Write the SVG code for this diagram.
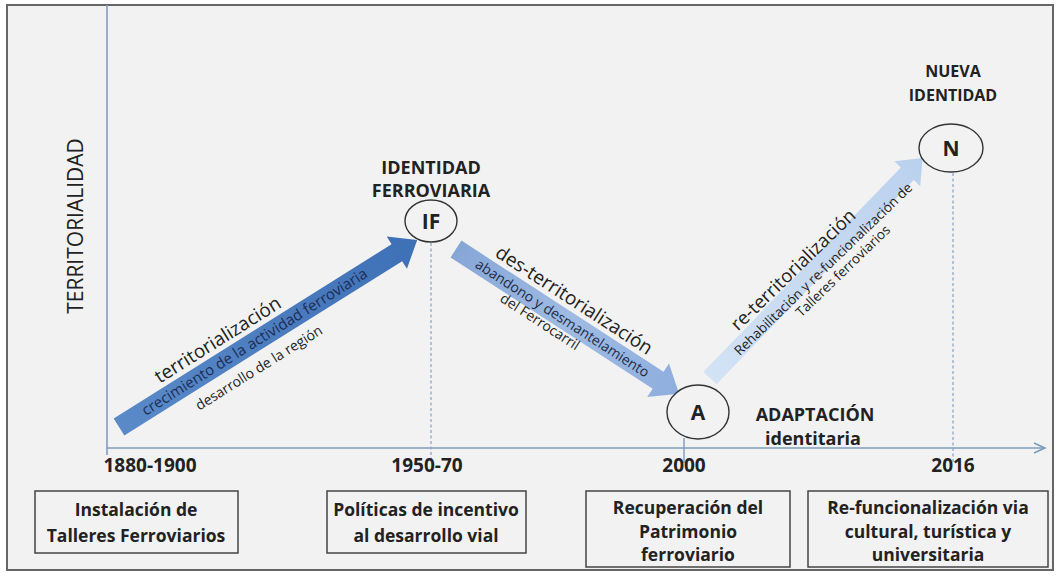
<svg xmlns="http://www.w3.org/2000/svg" width="1057" height="578" viewBox="0 0 1057 578">
<style>
text{font-family:"Open Sans","Liberation Sans",sans-serif;fill:#222}
.b{font-weight:bold}
.box{fill:#f2f2f2;stroke:#444;stroke-width:1.5}
.node{fill:#f2f2f2;stroke:#333;stroke-width:1.4}
.dot{stroke:#8ea8c8;stroke-width:1.3;stroke-dasharray:3 2.5;fill:none}
.axis{stroke:#7f9bbd;stroke-width:1.6;fill:none}
.lbl{font-size:19px}
.in{font-size:14px}
.yr{font-size:19px;font-weight:bold;text-anchor:middle}
.bt{font-size:17.5px;font-weight:bold;text-anchor:middle}
.hd{font-size:18px;font-weight:bold;text-anchor:middle}
.nt{font-size:21px;font-weight:bold;text-anchor:middle}
</style>
<defs>
<linearGradient id="g1" x1="0" y1="0" x2="1" y2="0"><stop offset="0" stop-color="#5a8ac8"/><stop offset="1" stop-color="#3e70b6"/></linearGradient>
<linearGradient id="g2" x1="0" y1="0" x2="1" y2="0"><stop offset="0" stop-color="#86a6d6"/><stop offset="0.5" stop-color="#9fbbe3"/><stop offset="1" stop-color="#8eaede"/></linearGradient>
<linearGradient id="g3" x1="0" y1="0" x2="1" y2="0"><stop offset="0" stop-color="#d3e2f5"/><stop offset="1" stop-color="#bad1ee"/></linearGradient>
</defs>
<rect x="7" y="5" width="1046" height="565" fill="#f2f2f2" stroke="#666" stroke-width="2"/>

<g id="axes">
<line class="axis" x1="107" y1="5" x2="107" y2="455"/>
<line class="axis" x1="107" y1="448" x2="1044" y2="448"/>
<polyline class="axis" points="1034,443 1045,448 1034,453"/>
<text transform="translate(83,226) rotate(-90)" font-size="21" text-anchor="middle">TERRITORIALIDAD</text>
<line class="dot" x1="431" y1="243" x2="431" y2="463"/>
<line class="dot" x1="953" y1="173" x2="953" y2="463"/>
<line x1="684" y1="438" x2="684" y2="463" stroke="#7f9bbd" stroke-width="1.4"/>
</g>

<g id="connectors">
<g id="arrow-territorializacion" transform="translate(119,427) rotate(-32.1)">
<polygon points="0,-10 328,-10 328,-19 352,0 328,19 328,10 0,10" fill="url(#g1)"/>
<text class="lbl" x="130" y="-15" text-anchor="middle">territorialización</text>
<text x="160" y="5" font-size="15" text-anchor="middle" style="fill:#1c2e55">crecimiento de la actividad ferroviaria</text>
<text x="150" y="29" font-size="14" text-anchor="middle">desarrollo de la región</text>
</g>
<g id="arrow-desterritorializacion" transform="translate(456,249) rotate(33)">
<polygon points="0,-10 241,-10 241,-20 266,0 241,20 241,10 0,10" fill="url(#g2)"/>
<text class="lbl" x="127" y="-15" text-anchor="middle">des-territorialización</text>
<text class="in" x="127" y="5" text-anchor="middle" style="fill:#1d2b45">abandono y desmantelamiento</text>
<text class="in" x="110" y="20" text-anchor="middle">del Ferrocarril</text>
</g>
<g id="arrow-reterritorializacion" transform="translate(710,378) rotate(-46)">
<polygon points="0,-9 284,-9 284,-18 306,0 284,18 284,9 0,9" fill="url(#g3)"/>
<g transform="rotate(2)">
<text x="135" y="-14" font-size="18.5" text-anchor="middle">re-territorialización</text>
<text x="157" y="5" font-size="13.5" text-anchor="middle">Rehabilitación y re-funcionalización de</text>
<text x="170" y="20" font-size="13.5" text-anchor="middle">Talleres ferroviarios</text>
</g>
</g>
</g>

<g id="node-IF">
<text class="hd" x="431" y="174">IDENTIDAD</text>
<text class="hd" x="431" y="197">FERROVIARIA</text>
<ellipse class="node" cx="431" cy="221" rx="26" ry="21"/>
<text class="nt" x="431" y="229">IF</text>
</g>
<g id="node-A">
<ellipse class="node" cx="698" cy="412" rx="31" ry="27"/>
<text class="nt" x="698" y="420">A</text>
<text class="hd" x="815" y="421">ADAPTACIÓN</text>
<text class="hd" x="813" y="445">identitaria</text>
</g>
<g id="node-N">
<text class="b" x="953" y="77" font-size="16" text-anchor="middle">NUEVA</text>
<text class="b" x="953" y="101" font-size="16" text-anchor="middle">IDENTIDAD</text>
<ellipse class="node" cx="951" cy="148" rx="32" ry="24"/>
<text class="nt" x="951" y="156">N</text>
</g>

<g id="timeline">
<text class="yr" x="150" y="472">1880-1900</text>
<text class="yr" x="427" y="472">1950-70</text>
<text class="yr" x="684" y="472">2000</text>
<text class="yr" x="953" y="472">2016</text>
</g>

<g id="box-1880">
<rect class="box" x="35" y="491" width="203" height="62"/>
<text class="bt" x="136" y="516">Instalación de</text>
<text class="bt" x="136" y="542">Talleres Ferroviarios</text>
</g>
<g id="box-1950">
<rect class="box" x="327" y="491" width="199" height="62"/>
<text class="bt" x="426" y="516">Políticas de incentivo</text>
<text class="bt" x="426" y="542">al desarrollo vial</text>
</g>
<g id="box-2000">
<rect class="box" x="586" y="491" width="204" height="76"/>
<text class="bt" x="688" y="514">Recuperación del</text>
<text class="bt" x="688" y="538">Patrimonio</text>
<text class="bt" x="688" y="561">ferroviario</text>
</g>
<g id="box-2016">
<rect class="box" x="808" y="491" width="240" height="76"/>
<text class="bt" x="928" y="514">Re-funcionalización via</text>
<text class="bt" x="928" y="538">cultural, turística y</text>
<text class="bt" x="928" y="561">universitaria</text>
</g>
</svg>
